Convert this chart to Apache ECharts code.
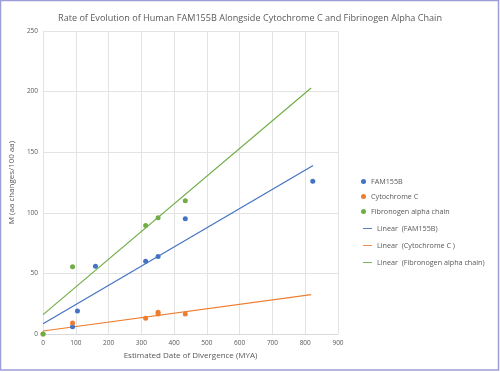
<!DOCTYPE html>
<html><head><meta charset="utf-8">
<script src="https://cdn.jsdelivr.net/npm/echarts@6/dist/echarts.min.js"></script>
<style>html,body{margin:0;padding:0;background:#fff}#c{width:500px;height:372px}</style>
</head><body><div id="c"></div>
<script>
const title = 'Rate of Evolution of Human FAM155B Alongside Cytochrome C and Fibrinogen Alpha Chain';
const xTicks = [0,100,200,300,400,500,600,700,800,900];
const yTicks = [0,50,100,150,200,250];
const famX = [90, 105, 160, 313, 351, 434, 823];
const famY = [6, 19, 56, 60, 64, 95, 126];
const cytX = [0, 90, 313, 351, 351, 434];
const cytY = [0, 9, 13, 16.5, 18, 16.5];
const fibX = [0, 90, 313, 351, 434];
const fibY = [0, 55.5, 89.5, 96, 110];
const famTrendX = [0, 824];
const famTrendY = [8.5, 139];
const cytTrendX = [0, 818];
const cytTrendY = [2.5, 32.5];
const fibTrendX = [0, 818];
const fibTrendY = [16, 203];
const names = ['FAM155B','Cytochrome C','Fibronogen alpha chain','Linear  (FAM155B)','Linear  (Cytochrome C )','Linear  (Fibronogen alpha chain)'];
const colors = ['#4472C4','#ED7D31','#70AD47'];
const zip = (a,b)=>a.map((v,i)=>[v,b[i]]);
const txt = '#595959';
const font = 'Open Sans';
const chart = echarts.init(document.getElementById('c'));
const scat = (n,x,y,c)=>({name:n,type:'scatter',data:zip(x,y),symbolSize:5,itemStyle:{color:c,opacity:1},z:3});
const line = (n,x,y,c)=>({name:n,type:'line',data:zip(x,y),symbol:'none',lineStyle:{color:c,width:1.2},itemStyle:{color:c},z:2});
const legText = {fontSize:7.2,color:txt,fontFamily:font};
const lineIcon = 'path://M0,0 L10,0 L10,1 L0,1 Z';
const lineItem = (n,c)=>({name:n,icon:lineIcon,itemStyle:{color:c,borderWidth:0,opacity:1}});
chart.setOption({
  animation:false,
  backgroundColor:'#fff',
  textStyle:{fontFamily:font},
  title:{text:title,left:'center',top:9,textStyle:{fontSize:9.1,fontWeight:'normal',color:txt,fontFamily:font}},
  graphic:[{type:'rect',shape:{x:0.5,y:0.5,width:498,height:369.5},style:{fill:'none',stroke:'#9d9dd9',lineWidth:1.5},silent:true}],
  grid:{left:41,right:162,top:31,bottom:38},
  legend:[
    {orient:'vertical',left:361,top:178,padding:0,itemGap:8,itemWidth:5,itemHeight:5,textStyle:legText,
     data:[
      {name:names[0],icon:'circle'},
      {name:names[1],icon:'circle'},
      {name:names[2],icon:'circle'}]},
    {orient:'vertical',left:363,top:225,padding:0,itemGap:10,itemWidth:9,itemHeight:1.5,textStyle:legText,
     data:[lineItem(names[3],colors[0]),lineItem(names[4],colors[1]),lineItem(names[5],colors[2])]}
  ],
  xAxis:{type:'value',min:0,max:900,interval:100,
    name:'Estimated Date of Divergence (MYA)',nameLocation:'middle',nameGap:16,
    nameTextStyle:{fontSize:8,color:txt,fontFamily:font},
    axisLine:{show:true,lineStyle:{color:'#d9d9d9'}},axisTick:{show:false},
    axisLabel:{fontSize:6.5,color:txt,margin:6,fontFamily:font},
    splitLine:{show:true,lineStyle:{color:'#e3e3e3'}}},
  yAxis:{type:'value',min:0,max:250,interval:50,
    name:'M (aa changes/100 aa)',nameLocation:'middle',nameGap:13,
    nameTextStyle:{fontSize:8,color:txt,fontFamily:font},
    axisLine:{show:false},axisTick:{show:false},
    axisLabel:{fontSize:6.5,color:txt,margin:5,fontFamily:font},
    splitLine:{show:true,lineStyle:{color:'#e3e3e3'}}},
  series:[
    scat(names[0],famX,famY,colors[0]),
    scat(names[1],cytX,cytY,colors[1]),
    scat(names[2],fibX,fibY,colors[2]),
    line(names[3],famTrendX,famTrendY,colors[0]),
    line(names[4],cytTrendX,cytTrendY,colors[1]),
    line(names[5],fibTrendX,fibTrendY,colors[2])
  ]
});
</script></body></html>
